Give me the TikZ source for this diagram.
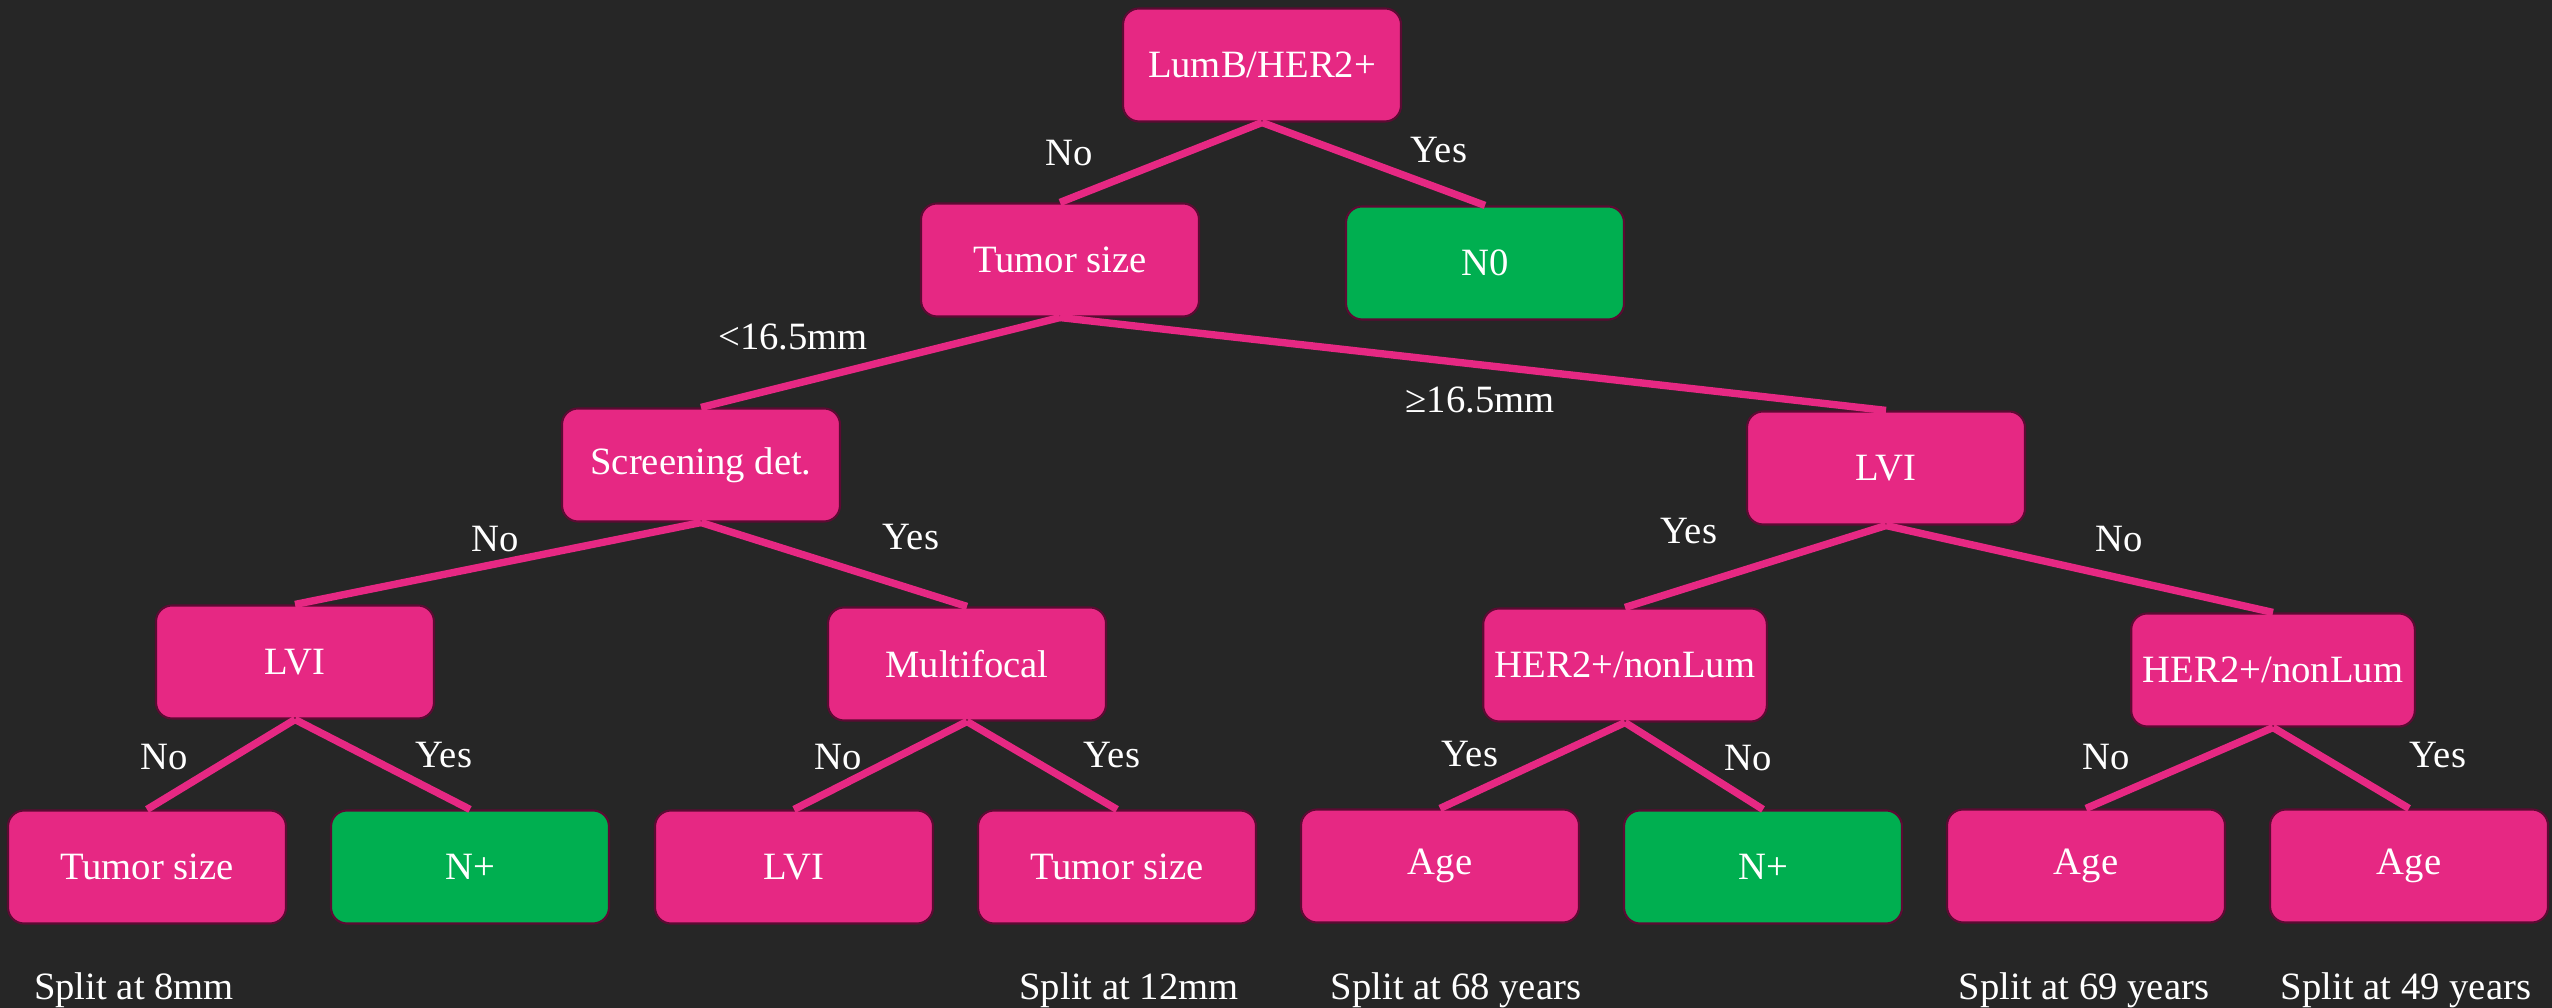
\documentclass[tikz,border=0pt]{standalone}
\usepackage{fontspec}
\setmainfont{Liberation Serif}
\usepackage{xcolor}
\definecolor{bgdark}{HTML}{262626}
\definecolor{splitpink}{HTML}{E62883}
\definecolor{leafgreen}{HTML}{00AF50}
\definecolor{rimmaroon}{HTML}{5C0A33}

\begin{document}
\begin{tikzpicture}[
  split/.style={rectangle, rounded corners=0.16cm, fill=splitpink, draw=rimmaroon,
    line width=0.6pt, minimum width=2.78cm, minimum height=1.13cm,
    text=white, font=\fontsize{11}{13}\selectfont},
  leaf/.style={split, fill=leafgreen},
  branch/.style={splitpink, line width=2.1pt},
  answer/.style={text=white, font=\fontsize{11}{13}\selectfont}
]
  % background
  \useasboundingbox (0,0) rectangle (25.52,10.08);
  \fill[bgdark] (0,0) rectangle (25.52,10.08);
  % tree nodes
  \node[split] (root)  at (12.62,9.43) {LumB/HER2+};
  \node[split] (ts1)   at (10.60,7.48) {Tumor size};
  \node[leaf]  (n0)    at (14.85,7.45) {N0};
  \node[split] (scr)   at (7.01,5.43)  {Screening det.};
  \node[split] (lviR)  at (18.86,5.40) {LVI};
  \node[split] (lviL)  at (2.95,3.46)  {LVI};
  \node[split] (multi) at (9.67,3.44)  {Multifocal};
  \node[split] (herA)  at (16.25,3.43) {HER2+/nonLum};
  \node[split] (herB)  at (22.73,3.38) {HER2+/nonLum};
  % bottom row
  \foreach \n/\x in {ts2/1.47, ts3/11.17} {
    \node[split] (\n) at (\x,1.41) {Tumor size};
  }
  \node[split] (lvi2) at (7.94,1.41) {LVI};
  \foreach \n/\x in {ageA/14.40, ageB/20.86, ageC/24.09} {
    \node[split] (\n) at (\x,1.42) {Age};
  }
  \foreach \n/\x in {np1/4.70, np2/17.63} {
    \node[leaf] (\n) at (\x,1.41) {N+};
  }
  % branches
  \foreach \a/\b in {root/ts1, root/n0, ts1/scr, ts1/lviR, scr/lviL, scr/multi,
                     lviR/herA, lviR/herB, lviL/ts2, lviL/np1, multi/lvi2, multi/ts3,
                     herA/ageA, herA/np2, herB/ageB, herB/ageC} {
    \draw[branch] (\a.south) -- (\b.north);
  }
  % branch answers
  \foreach \x/\y/\t [count=\i] in {10.69/8.55/No, 14.39/8.58/Yes, 7.93/6.71/<16.5mm,
                                   14.80/6.08/≥16.5mm, 4.95/4.69/No, 9.11/4.71/Yes,
                                   16.89/4.77/Yes, 21.19/4.69/No, 1.64/2.51/No,
                                   4.44/2.53/Yes, 8.38/2.51/No, 11.12/2.53/Yes,
                                   14.70/2.54/Yes, 17.48/2.50/No, 21.06/2.51/No,
                                   24.38/2.53/Yes} {
    \node[answer] (ans\i) at (\x,\y) {\t};
  }
  % split notes
  \foreach \x/\t [count=\i] in {1.34/Split at 8mm, 11.29/Split at 12mm,
                                14.56/Split at 68 years, 20.84/Split at 69 years,
                                24.06/Split at 49 years} {
    \node[answer, anchor=base] (note\i) at (\x,0.08) {\t};
  }
\end{tikzpicture}
\end{document}
